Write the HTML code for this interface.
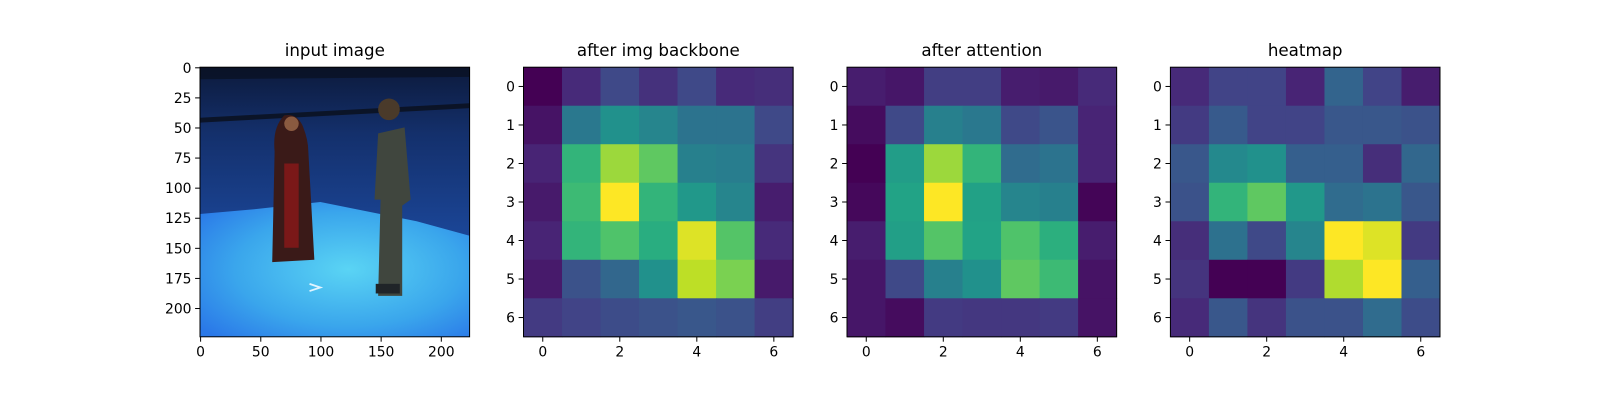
<!DOCTYPE html>
<html><head><meta charset="utf-8">
<style>
html,body{margin:0;padding:0;background:#fff;}
svg{display:block;font-family:"DejaVu Sans","Liberation Sans",sans-serif;}
</style></head>
<body>
<svg id="fig" width="1600" height="400" viewBox="0 0 1600 400" xmlns="http://www.w3.org/2000/svg">
  <defs>
    <linearGradient id="wall" x1="0" y1="0" x2="0" y2="1">
      <stop offset="0" stop-color="#0c1a3c"/>
      <stop offset="0.25" stop-color="#14306c"/>
      <stop offset="0.6" stop-color="#1a4494"/>
    </linearGradient>
    <radialGradient id="floor" cx="0.55" cy="0.5" r="0.7">
      <stop offset="0" stop-color="#5ad4f4"/>
      <stop offset="0.6" stop-color="#3aa6ec"/>
      <stop offset="1" stop-color="#2a78e8"/>
    </radialGradient>
    <clipPath id="imgclip"><rect x="0" y="0" width="224" height="224"/></clipPath>
  </defs>
  <g id="panel1">
    <text x="334.8" y="56" text-anchor="middle" font-size="16.7">input image</text>
    <g transform="translate(200,67.2) scale(1.2036)" clip-path="url(#imgclip)">
      <rect x="0" y="0" width="224" height="224" fill="url(#wall)"/>
      <path d="M0 122 L45 118 L100 112 L180 128 L224 140 L224 224 L0 224 Z" fill="url(#floor)"/>
      <path d="M0 42 L224 30 L224 34 L0 46 Z" fill="#0a0f1a" opacity="0.8"/>
      <path d="M0 0 L224 0 L224 8 L0 10 Z" fill="#0a1020" opacity="0.7"/>
      <path d="M62 70 Q60 50 70 40 Q80 38 85 48 Q90 60 90 70 L95 160 L60 162 Z" fill="#3a1a18"/>
      <rect x="70" y="80" width="12" height="70" fill="#7a1818"/>
      <circle cx="76" cy="47" r="6" fill="#8a5a40"/>
      <path d="M148 55 L170 50 L175 110 L168 115 L168 190 L148 190 L150 110 L145 110 Z" fill="#40463e"/>
      <circle cx="157" cy="35" r="9" fill="#4a3a2a"/>
      <rect x="146" y="180" width="20" height="8" fill="#202428"/>
      <path d="M91 180 L100 183 L91 186" stroke="#e0f4ff" stroke-width="1.5" fill="none"/>
    </g>
    <rect x="200" y="67.2" width="269.6" height="269.6" fill="none" stroke="#000" stroke-width="1"/>
    <g id="p1ticks"></g>
  </g>
  <g id="heatmaps"></g>
</svg>
<script>
const heatTitles = ["after img backbone","after attention","heatmap"];
const heatLefts = [523.5, 847, 1170.4];
const backboneValues = [
 [0.00,0.12,0.22,0.14,0.22,0.12,0.13],
 [0.05,0.40,0.50,0.45,0.38,0.38,0.22],
 [0.10,0.65,0.85,0.75,0.43,0.42,0.15],
 [0.07,0.68,1.00,0.65,0.53,0.45,0.08],
 [0.10,0.65,0.72,0.62,0.95,0.73,0.12],
 [0.07,0.25,0.33,0.50,0.90,0.80,0.07],
 [0.17,0.20,0.23,0.25,0.27,0.25,0.18]];
const attentionValues = [
 [0.08,0.06,0.18,0.18,0.08,0.07,0.12],
 [0.03,0.22,0.43,0.40,0.22,0.26,0.10],
 [0.00,0.55,0.85,0.65,0.35,0.38,0.10],
 [0.02,0.58,1.00,0.57,0.45,0.43,0.01],
 [0.08,0.56,0.73,0.58,0.72,0.63,0.08],
 [0.06,0.22,0.43,0.50,0.75,0.68,0.05],
 [0.06,0.03,0.17,0.16,0.16,0.17,0.05]];
const heatmapValues = [
 [0.12,0.20,0.20,0.10,0.32,0.20,0.08],
 [0.17,0.28,0.20,0.20,0.27,0.27,0.25],
 [0.27,0.47,0.50,0.30,0.30,0.13,0.33],
 [0.25,0.65,0.75,0.53,0.35,0.38,0.27],
 [0.13,0.37,0.22,0.45,1.00,0.95,0.17],
 [0.15,0.00,0.00,0.17,0.88,1.00,0.30],
 [0.12,0.27,0.15,0.25,0.25,0.35,0.23]];
const heatTickLabels = [0,1,2,3,4,5,6];
const heatXTickLabels = [0,2,4,6];
const imgXTicks = [0,50,100,150,200];
const imgYTicks = [0,25,50,75,100,125,150,175,200];

const NS="http://www.w3.org/2000/svg";
const vir=["#440154","#482475","#414487","#355f8d","#2a788e","#21918c","#22a884","#44bf70","#7ad151","#bddf26","#fde725"];
function hx(c){return [1,3,5].map(i=>parseInt(c.substr(i,2),16));}
function viridis(v){v=Math.max(0,Math.min(1,v));const p=v*10,i=Math.min(9,Math.floor(p)),f=p-i;
 const a=hx(vir[i]),b=hx(vir[i+1]);return "rgb("+a.map((x,k)=>Math.round(x+(b[k]-x)*f)).join(",")+")";}
function mk(tag,attrs,parent,text){const e=document.createElementNS(NS,tag);for(const k in attrs)e.setAttribute(k,attrs[k]);if(text!==undefined)e.textContent=text;parent.appendChild(e);return e;}
const SIZE=269.6, TOP=67.2, FS=13.9;

const p1=document.getElementById('p1ticks');
const imgScale=v=>(v+0.5)*SIZE/224;
imgXTicks.forEach(t=>{const x=200+imgScale(t);
 mk('line',{x1:x,x2:x,y1:TOP+SIZE,y2:TOP+SIZE+4.9,stroke:'#000'},p1);
 const tx=mk('text',{x:x,y:TOP+SIZE+19.5,'text-anchor':'middle','font-size':FS},p1,String(t));
 
 });
imgYTicks.forEach(t=>{const y=TOP+imgScale(t);
 mk('line',{x1:195.1,x2:200,y1:y,y2:y,stroke:'#000'},p1);
 const tx=mk('text',{x:191.5,y:y+5,'text-anchor':'end','font-size':FS},p1,String(t));
 
 });

const root=document.getElementById('heatmaps');
const datasets=[backboneValues,attentionValues,heatmapValues];
datasets.forEach((data,p)=>{
 const L=heatLefts[p], n=data.length, cw=SIZE/n;
 const g=mk('g',{},root);
 
 
 const t=mk('text',{x:L+SIZE/2,y:56,'text-anchor':'middle','font-size':16.7},g,heatTitles[p]);
 
 
 data.forEach((row,r)=>row.forEach((v,c)=>{
  const cell=mk('rect',{x:L+c*cw,y:TOP+r*cw,width:cw+0.5,height:cw+0.5,fill:viridis(v)},g);
  
  
 }));
 const fr=mk('rect',{x:L,y:TOP,width:SIZE,height:SIZE,fill:'none',stroke:'#000'},g);
 
 
 heatTickLabels.forEach(k=>{const y=TOP+(k+0.5)*cw;
  mk('line',{x1:L-4.9,x2:L,y1:y,y2:y,stroke:'#000'},g);
  const tx=mk('text',{x:L-8.5,y:y+5,'text-anchor':'end','font-size':FS},g,String(k));
  
  });
 heatXTickLabels.forEach(k=>{const x=L+(k+0.5)*cw;
  mk('line',{x1:x,x2:x,y1:TOP+SIZE,y2:TOP+SIZE+4.9,stroke:'#000'},g);
  const tx=mk('text',{x:x,y:TOP+SIZE+19.5,'text-anchor':'middle','font-size':FS},g,String(k));
  
  });
});
</script>
</body></html>
